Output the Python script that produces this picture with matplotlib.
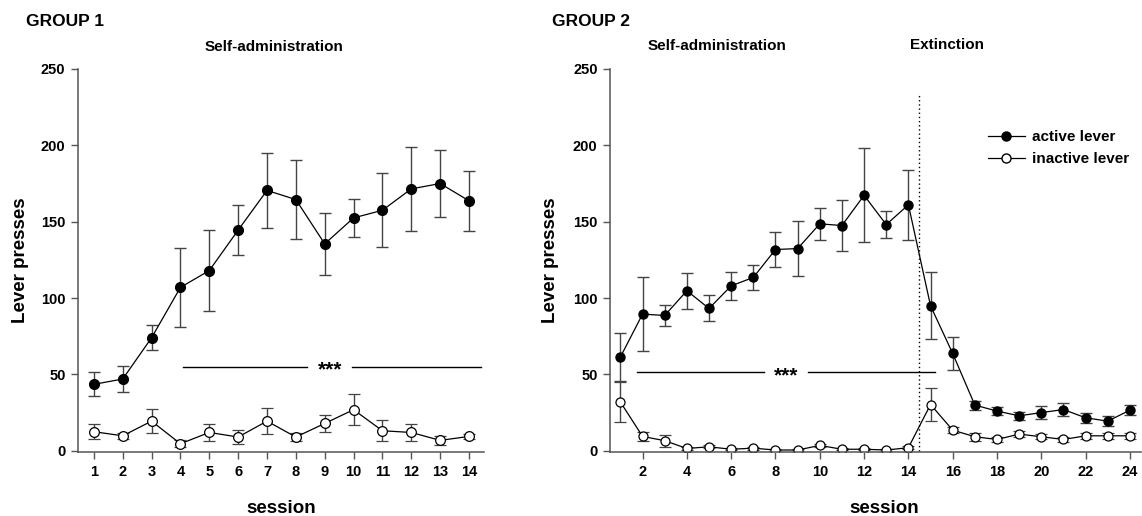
import numpy as np
import matplotlib
matplotlib.use('Agg')
import matplotlib.pyplot as plt
from matplotlib.lines import Line2D

plt.rcParams['font.family'] = ['Liberation Sans', 'DejaVu Sans']
plt.rcParams['font.weight'] = 'bold'
plt.rcParams['axes.labelweight'] = 'bold'

# group 1: self-administration only (sessions 1-14)
sessions1 = np.arange(1, 15)
active1 = [43.5, 47, 74, 107, 118, 144.5, 170.5, 164.5, 135.5, 152.5, 157.5, 171.5, 175, 163.7]
active1_sem = [7.8, 8.5, 8.2, 25.7, 26.4, 16.2, 24.5, 26, 20.3, 12.2, 24.2, 27.7, 21.8, 19.6]
inactive1 = [12.5, 9.8, 19.4, 4.6, 12, 9, 19.4, 9, 17.9, 26.9, 13.1, 12, 6.8, 9.4]
inactive1_sem = [4.8, 2, 8, 2.2, 5.5, 4.5, 8.6, 2.8, 5.4, 10, 7, 5.8, 2.8, 1.8]

# group 2: self-administration (1-14) then extinction (15-24)
sessions2 = np.arange(1, 25)
active2 = [61.4, 89.5, 88.6, 104.8, 93.2, 108, 113.5, 131.8, 132.4, 148.6, 147.5, 167.3,
           148.1, 161.1, 94.9, 63.7, 29.9, 26, 22.9, 25, 27, 21.6, 19.4, 26.6]
active2_sem = [15.8, 24, 7.1, 11.7, 8.5, 9.3, 8, 11.6, 18.2, 10.7, 16.7, 30.9,
               8.7, 23, 22, 10.5, 3, 2.4, 2.6, 4, 4.3, 3.3, 3.3, 3.4]
inactive2 = [31.9, 9.4, 6.6, 1.5, 2.6, 1, 1.7, 0.5, 0.5, 3.5, 1, 1,
             0.5, 2, 30.3, 13.5, 9.2, 7.4, 10.9, 9.2, 7.4, 9.8, 9.8, 9.8]
inactive2_sem = [13, 3.2, 4, 1, 1, 0.8, 1, 0.5, 0.5, 1.2, 0.8, 0.8,
                 0.5, 1, 11, 2, 2.5, 1.5, 2, 1.5, 1.5, 2, 2, 2]

W, H = 1142, 516
fig = plt.figure(figsize=(W / 100, H / 100), dpi=100)


def px_axes(x0, x1, y_top, y_bot):
    return fig.add_axes([x0 / W, 1 - y_bot / H, (x1 - x0) / W, (y_bot - y_top) / H])


def style(ax):
    for s in ['top', 'right']:
        ax.spines[s].set_visible(False)
    for s in ['left', 'bottom']:
        ax.spines[s].set_color('#555555')
        ax.spines[s].set_linewidth(1.1)
    ax.tick_params(direction='out', length=5, width=1, color='#555555',
                   labelsize=10.5, pad=4)
    ax.set_ylim(-1, 250)
    ax.set_yticks([0, 50, 100, 150, 200, 250])


def draw(ax, x, act, act_e, inact, inact_e, ms):
    ax.errorbar(x, act, yerr=act_e, fmt='-o', color='black', ecolor='#444444',
                elinewidth=1, capsize=4, capthick=1, lw=0.9, ms=ms,
                mfc='black', mec='black')
    ax.errorbar(x, inact, yerr=inact_e, fmt='-o', color='black', ecolor='#444444',
                elinewidth=1, capsize=4, capthick=1, lw=0.9, ms=ms,
                mfc='white', mec='black', mew=0.9)


def sig_line(ax, x0, gap0, gap1, x1, y, xstar):
    ax.plot([x0, gap0], [y, y], color='black', lw=1)
    ax.plot([gap1, x1], [y, y], color='black', lw=1)
    ax.text(xstar, y - 2, '***', ha='center', va='center', fontsize=15)


# left panel
ax1 = px_axes(78, 484, 69, 452.3)
style(ax1)
draw(ax1, sessions1, active1, active1_sem, inactive1, inactive1_sem, 7)
ax1.set_xlim(0.45, 14.52)
ax1.set_xticks(sessions1)
sig_line(ax1, 4.08, 8.4, 9.95, 14.43, 55, 9.2)
ax1.set_xlabel('session', fontsize=13.5)
ax1.xaxis.set_label_coords(0.5, -0.125)
ax1.set_ylabel('Lever presses', fontsize=13.5)
ax1.yaxis.set_label_coords(-0.12, 0.5)

# right panel
ax2 = px_axes(610, 1141, 69, 452.3)
style(ax2)
ax2.vlines(14.5, 0, 233, colors='black', linestyles=(0, (1, 2)), lw=1)
draw(ax2, sessions2, active2, active2_sem, inactive2, inactive2_sem, 6.5)
ax2.set_xlim(0.53, 24.5)
ax2.set_xticks(np.arange(2, 25, 2))
sig_line(ax2, 1.74, 7.5, 9.45, 15.2, 51.3, 8.5)
ax2.set_xlabel('session', fontsize=13.5)
ax2.xaxis.set_label_coords(0.516, -0.125)
ax2.set_ylabel('Lever presses', fontsize=13.5)
ax2.yaxis.set_label_coords(-0.096, 0.5)
handles = [Line2D([], [], color='black', lw=0.9, marker='o', ms=6.5, mfc='black', mec='black'),
           Line2D([], [], color='black', lw=0.9, marker='o', ms=6.5, mfc='white', mec='black')]
ax2.legend(handles, ['active lever', 'inactive lever'], loc='upper left',
           bbox_to_anchor=(0.712, 0.84), frameon=False, fontsize=11,
           handlelength=2.4, handletextpad=0.5, labelspacing=0.5,
           borderpad=0, borderaxespad=0)

# titles
fig.text(26 / W, 1 - 22 / H, 'GROUP 1', fontsize=12.5, ha='left', va='center')
fig.text(274 / W, 1 - 47 / H, 'Self-administration', fontsize=11, ha='center', va='center')
fig.text(552 / W, 1 - 22 / H, 'GROUP 2', fontsize=12.5, ha='left', va='center')
fig.text(717 / W, 1 - 46 / H, 'Self-administration', fontsize=11, ha='center', va='center')
fig.text(947 / W, 1 - 45 / H, 'Extinction', fontsize=11, ha='center', va='center')

fig.savefig('out.png', dpi=100)
